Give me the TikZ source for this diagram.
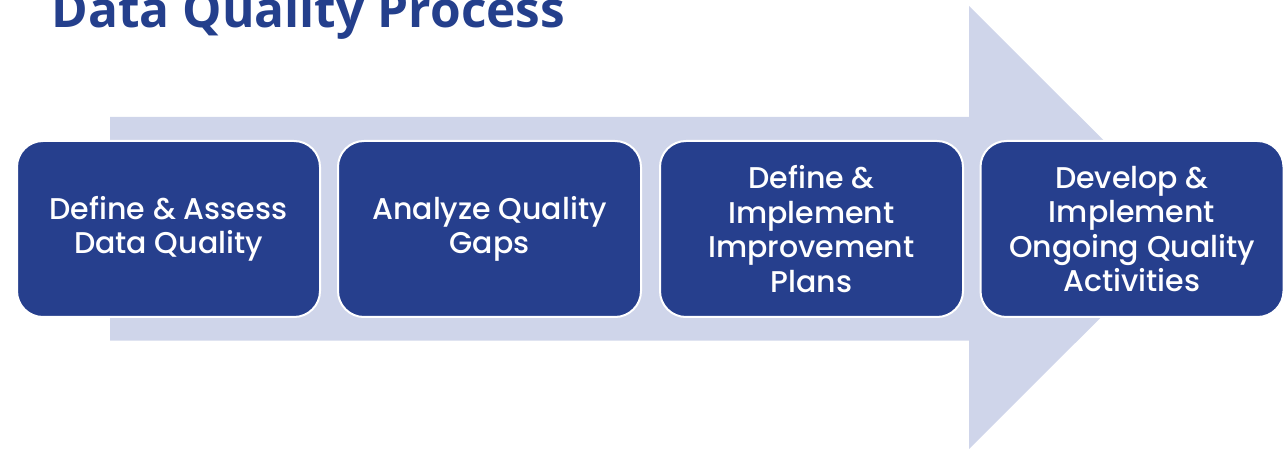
\documentclass[tikz,border=0pt]{standalone}
\usepackage{fontspec}
\setmainfont{Open Sans}
\newfontfamily\boxfont{Poppins}[UprightFont=* Medium]
\newfontfamily\titlefont{Open Sans}[UprightFont=* Bold]
\definecolor{boxblue}{RGB}{38,63,141}
\definecolor{arrowgray}{RGB}{207,213,234}
\definecolor{titleblue}{RGB}{36,63,140}
\begin{document}
\begin{tikzpicture}[x=1pt,y=-1pt,
  stepbox/.style={draw=white, line width=2pt, fill=boxblue, rounded corners=26pt,
    minimum width=303pt, minimum height=176pt, inner sep=0pt,
    text=white, align=center, font=\boxfont\fontsize{30}{34.5}\selectfont},
  ]
  \useasboundingbox (0,0) rectangle (1286,449);
  % big background arrow
  \fill[arrowgray] (110,117) -- (969,117) -- (969,6) -- (1191,227.5)
     -- (969,449) -- (969,340.5) -- (110,340.5) -- cycle;
  % title
  \node[anchor=base west, inner sep=0pt, text=titleblue,
        font=\titlefont\fontsize{49.6}{55}\selectfont] (title) at (51.5,28) {Data Quality Process};
  % steps
  \node[stepbox] (s1) at (168.5,229) {Define \& Assess\\Data Quality};
  \node[stepbox] (s2) at (489.5,229) {Analyze Quality\\Gaps};
  \node[stepbox] (s3) at (811.5,229) {Define \&\\Implement\\Improvement\\Plans};
  \node[stepbox] (s4) at (1132,229) {Develop \&\\Implement\\Ongoing Quality\\Activities};
\end{tikzpicture}
\end{document}
